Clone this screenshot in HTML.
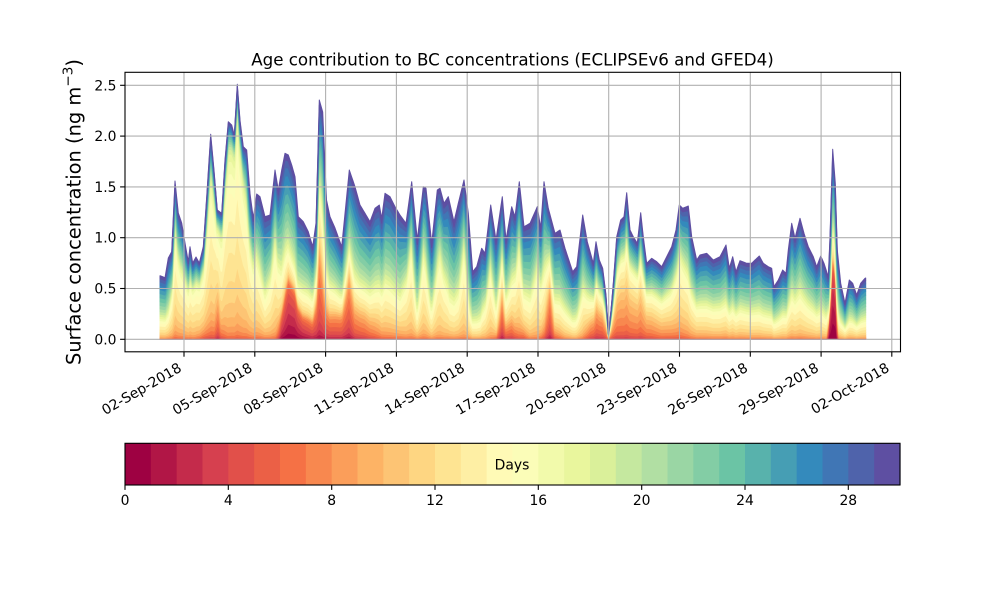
<!DOCTYPE html>
<html><head><meta charset="utf-8">
<style>
html,body{margin:0;padding:0;background:#fff;width:1000px;height:600px;overflow:hidden}
svg{display:block}
text{font-family:"DejaVu Sans","Liberation Sans",sans-serif;fill:#000}
</style></head>
<body>
<svg id="s" width="1000" height="600" viewBox="0 0 1000 600" xmlns="http://www.w3.org/2000/svg">
<rect width="1000" height="600" fill="#fff"/>
<g id="layers"></g>
<g stroke="#b0b0b0" stroke-width="1.1" fill="none">
<line x1="125" y1="339.3" x2="900.5" y2="339.3"/>
<line x1="125" y1="288.5" x2="900.5" y2="288.5"/>
<line x1="125" y1="237.7" x2="900.5" y2="237.7"/>
<line x1="125" y1="186.9" x2="900.5" y2="186.9"/>
<line x1="125" y1="136.1" x2="900.5" y2="136.1"/>
<line x1="125" y1="85.3" x2="900.5" y2="85.3"/>
<line x1="184.0" y1="72.3" x2="184.0" y2="351.8"/>
<line x1="254.8" y1="72.3" x2="254.8" y2="351.8"/>
<line x1="325.6" y1="72.3" x2="325.6" y2="351.8"/>
<line x1="396.4" y1="72.3" x2="396.4" y2="351.8"/>
<line x1="467.2" y1="72.3" x2="467.2" y2="351.8"/>
<line x1="538.0" y1="72.3" x2="538.0" y2="351.8"/>
<line x1="608.7" y1="72.3" x2="608.7" y2="351.8"/>
<line x1="679.5" y1="72.3" x2="679.5" y2="351.8"/>
<line x1="750.3" y1="72.3" x2="750.3" y2="351.8"/>
<line x1="821.1" y1="72.3" x2="821.1" y2="351.8"/>
<line x1="891.8" y1="72.3" x2="891.8" y2="351.8"/>
</g>
<rect x="125" y="72.3" width="775.5" height="279.5" fill="none" stroke="#000" stroke-width="1.1"/>
<g stroke="#000" stroke-width="1.1">
<line x1="184.0" y1="351.8" x2="184.0" y2="356.7"/>
<line x1="254.8" y1="351.8" x2="254.8" y2="356.7"/>
<line x1="325.6" y1="351.8" x2="325.6" y2="356.7"/>
<line x1="396.4" y1="351.8" x2="396.4" y2="356.7"/>
<line x1="467.2" y1="351.8" x2="467.2" y2="356.7"/>
<line x1="538.0" y1="351.8" x2="538.0" y2="356.7"/>
<line x1="608.7" y1="351.8" x2="608.7" y2="356.7"/>
<line x1="679.5" y1="351.8" x2="679.5" y2="356.7"/>
<line x1="750.3" y1="351.8" x2="750.3" y2="356.7"/>
<line x1="821.1" y1="351.8" x2="821.1" y2="356.7"/>
<line x1="891.8" y1="351.8" x2="891.8" y2="356.7"/>
<line x1="125" y1="339.3" x2="120.1" y2="339.3"/>
<line x1="125" y1="288.5" x2="120.1" y2="288.5"/>
<line x1="125" y1="237.7" x2="120.1" y2="237.7"/>
<line x1="125" y1="186.9" x2="120.1" y2="186.9"/>
<line x1="125" y1="136.1" x2="120.1" y2="136.1"/>
<line x1="125" y1="85.3" x2="120.1" y2="85.3"/>
</g>
<g font-size="13.9" text-anchor="end">
<text x="116.5" y="344.3">0.0</text>
<text x="116.5" y="293.5">0.5</text>
<text x="116.5" y="242.7">1.0</text>
<text x="116.5" y="191.9">1.5</text>
<text x="116.5" y="141.1">2.0</text>
<text x="116.5" y="90.3">2.5</text>
</g>
<g font-size="13.9" text-anchor="end">
<text transform="translate(182.5,370.6) rotate(-30)">02-Sep-2018</text>
<text transform="translate(253.3,370.6) rotate(-30)">05-Sep-2018</text>
<text transform="translate(324.1,370.6) rotate(-30)">08-Sep-2018</text>
<text transform="translate(394.9,370.6) rotate(-30)">11-Sep-2018</text>
<text transform="translate(465.7,370.6) rotate(-30)">14-Sep-2018</text>
<text transform="translate(536.5,370.6) rotate(-30)">17-Sep-2018</text>
<text transform="translate(607.2,370.6) rotate(-30)">20-Sep-2018</text>
<text transform="translate(678.0,370.6) rotate(-30)">23-Sep-2018</text>
<text transform="translate(748.8,370.6) rotate(-30)">26-Sep-2018</text>
<text transform="translate(819.6,370.6) rotate(-30)">29-Sep-2018</text>
<text transform="translate(890.3,370.6) rotate(-30)">02-Oct-2018</text>
</g>
<text x="512.5" y="65.7" font-size="16.67" text-anchor="middle">Age contribution to BC concentrations (ECLIPSEv6 and GFED4)</text>
<text transform="translate(80.7,212) rotate(-90)" font-size="19.44" text-anchor="middle">Surface concentration (ng m<tspan font-size="13.6" dy="-8">−3</tspan><tspan dy="8">)</tspan></text>
<g id="cbar"></g>
<rect x="125" y="443.3" width="775" height="41.7" fill="none" stroke="#000" stroke-width="1.1"/>
<text x="512" y="469.3" font-size="13.9" text-anchor="middle">Days</text>
<g stroke="#000" stroke-width="1.1">
<line x1="125" y1="485" x2="125" y2="489.9"/>
<line x1="228.3" y1="485" x2="228.3" y2="489.9"/>
<line x1="331.7" y1="485" x2="331.7" y2="489.9"/>
<line x1="435" y1="485" x2="435" y2="489.9"/>
<line x1="538.3" y1="485" x2="538.3" y2="489.9"/>
<line x1="641.7" y1="485" x2="641.7" y2="489.9"/>
<line x1="745" y1="485" x2="745" y2="489.9"/>
<line x1="848.3" y1="485" x2="848.3" y2="489.9"/>
</g>
<g font-size="13.9" text-anchor="middle">
<text x="125" y="505">0</text>
<text x="228.3" y="505">4</text>
<text x="331.7" y="505">8</text>
<text x="435" y="505">12</text>
<text x="538.3" y="505">16</text>
<text x="641.7" y="505">20</text>
<text x="745" y="505">24</text>
<text x="848.3" y="505">28</text>
</g>
</svg>
<script>
(function(){
var NS="http://www.w3.org/2000/svg";
var sp=[[158,1,66],[213,62,79],[244,109,67],[253,174,97],[254,224,139],[255,255,191],[230,245,152],[171,221,164],[102,194,165],[50,136,189],[94,79,162]];
function cmap(v){var p=v*10;var i=Math.min(9,Math.floor(p));var f=p-i;var c=[0,1,2].map(function(k){return Math.round(sp[i][k]*(1-f)+sp[i+1][k]*f);});return "rgb("+c.join(",")+")";}
var cols=[];for(var i=0;i<30;i++)cols.push(cmap(i/29));
var T=[[160,275.7],[165,277.7],[168.3,258],[171.7,251.7],[175,181],[178.3,213],[181.7,223],[185,243],[188.3,261.7],[190,246.7],[192.7,263],[196,257],[199.3,263],[203.3,246.7],[206.7,196.7],[210.7,134.3],[214,170],[217.3,210],[221.7,213.3],[225,160],[228.3,121.7],[231.7,125],[234.3,135],[237.3,84.3],[240,120],[243.3,146.7],[246.7,150],[250,193.3],[253.3,218.3],[256.7,194],[260,196.7],[265,216.7],[270,215],[275,170],[278.3,190],[281.7,170],[285,153.3],[288.3,155],[291.7,165],[295,176.7],[298.3,216.7],[303.3,221.7],[308.3,231.7],[312.7,246.7],[316,223],[319.3,100],[322.7,112],[326.5,200],[330,216.7],[335,228],[341.7,246.7],[349.3,170],[355,186.7],[360,205],[365,213.3],[370,221.7],[375,208.3],[379.3,205],[381.7,218.3],[385,193.3],[390,196.7],[395,206.7],[400,215],[406,223.3],[411.7,181.7],[417.3,240],[423.3,186.7],[426,188.3],[431.7,243.3],[437.3,190],[440,188.3],[444,203.3],[448.3,196.7],[454,221.7],[458.3,203.3],[464,180],[468.3,213.3],[472.7,271.7],[476.7,266.7],[481.7,248.3],[485,253.3],[490.7,205],[496,240],[502.3,196.7],[506,240],[511.7,206.7],[515,216.7],[519.3,181.7],[524,226.7],[530,223.3],[537.3,206.7],[540.7,228.3],[544,181.7],[548.3,208.3],[555,233.3],[560,230],[565,248.3],[572.7,271.7],[576.7,266.7],[582.7,215],[587.3,241.7],[593.3,263.3],[596,241.7],[599.3,260],[602.7,268.3],[606,295],[608.5,334],[611,310],[613.3,283.3],[616.7,236.7],[620.7,220],[624,216.7],[626.7,192.7],[630,230],[633.3,236.7],[637.3,243.3],[640.7,212.7],[643.3,236.7],[646.7,263.3],[651.7,258.3],[656.7,261.7],[661.7,266.7],[666.7,256.7],[671.7,246.7],[676,230],[679.3,205],[682.7,208.3],[688.3,206],[691.7,236.7],[696.7,260],[700,255],[706.7,253.3],[713.3,260],[720,256.7],[726,245],[729.3,268.3],[732.7,256.7],[736,271.7],[740,260.7],[746.7,263.3],[751.7,263.3],[755,260],[759.3,256],[763.3,263.3],[768.3,266.7],[771.7,268.3],[774,286.7],[778.3,280],[782.7,270],[786,273.3],[788.3,250],[791.7,223.3],[795,238.3],[800,218.3],[804,233.3],[808.3,246.7],[813.3,256.7],[816.7,266.7],[820.7,256],[824,263.3],[828.3,276.7],[830,236.7],[832.7,149.3],[835.3,183.3],[837.3,250],[840.7,283.3],[845,303.3],[849.3,280],[852.7,283.3],[856.7,295],[860.7,283.3],[865,278.3],[865.7,278]];
var K=[[160,.05,.3],[168,.05,.3],[175,.1,.6],[181,.1,.45],[188,.1,.5],[195,.1,.55],[203,.12,.6,8],[210,.1,.7,8],[214,.12,.7,8],[218,.35,.5,7],[221,.15,.65,8],[228,.08,.78],[237,.1,.8],[243,.1,.72],[250,.1,.5],[256,.1,.45],[265,.06,.35],[275,.06,.5],[281,.15,.3,4],[288,.33,.17,3],[295,.3,.12,3],[303,.2,.22,4],[312,.2,.25,5],[319,.42,.32,6],[324,.25,.35,6],[330,.2,.25,6],[340,.25,.2,6],[349,.4,.15,6],[355,.2,.2,7],[365,.2,.2,7.5],[375,.15,.25,8.5],[385,.12,.3],[400,.1,.25],[411,.05,.55],[417,.05,.25],[423,.05,.5],[431,.04,.3],[440,.03,.5],[450,.03,.3],[458,.03,.35],[464,.03,.55],[470,.03,.25],[480,.02,.2],[490,.03,.5],[496,.05,.3,8],[502,.33,.35,6],[506,.15,.3,7],[512,.15,.35,7],[519,.08,.5,8],[524,.1,.35,8],[530,.05,.35],[537,.05,.45],[544,.1,.4,8],[550,.45,.25,6],[555,.1,.3,8],[565,.05,.3],[575,.03,.25],[582,.05,.4],[590,.2,.3,7.5],[597,.35,.3,7],[603,.35,.3,7],[608,.3,.4,7.5],[614,.4,.3,8],[620,.43,.3,8.5],[627,.4,.35,8.5],[640,.38,.35,8.5],[650,.3,.35,8.5],[660,.25,.35,9],[670,.2,.4,9],[680,.15,.45,9],[690,.12,.4],[700,.1,.35],[720,.08,.35],[740,.08,.35],[760,.06,.3],[775,.05,.3],[792,.05,.4],[800,.05,.4],[815,.05,.35],[826,.05,.3],[829,.3,.2,2],[832,.45,.2,1.5],[836,.4,.2,1.5],[839,.05,.3],[850,.05,.3],[866,.05,.3]];
K.forEach(function(k){if(k.length<4)k.push(10);if(k[2]<0.45)k[2]*=0.7;});
function interp(arr,x,idx){if(x<=arr[0][0])return arr[0][idx];for(var i=1;i<arr.length;i++){if(x<=arr[i][0]){var a=arr[i-1],b=arr[i];var f=(x-a[0])/(b[0]-a[0]);return a[idx]+(b[idx]-a[idx])*f;}}return arr[arr.length-1][idx];}
function L(a,m,s){return 1/(1+Math.exp(-(a-m)/s));}
function G(a,m,s){var l0=L(0,m,s),l1=L(30,m,s);return (L(a,m,s)-l0)/(l1-l0);}
var Y0=339.3;
var set={};T.forEach(function(p){set[p[0]]=1;});for(var x=160;x<=865.7;x+=1)set[x]=1;K.forEach(function(k){if(k[0]<=865.7)set[k[0]]=1;});
var xs=Object.keys(set).map(Number).sort(function(a,b){return a-b;});
var cum=xs.map(function(x){var h=Y0-interp(T,x,1);var wr=interp(K,x,1),wy=interp(K,x,2),rc=interp(K,x,3);var wb=1-wr-wy;var arr=[];for(var k=0;k<=30;k++){arr.push(Y0-h*(wr*G(k,rc,1.5)+wy*G(k,13.5,1.4)+wb*G(k,25,3.5)));}return arr;});
var g=document.getElementById("layers");
for(var i=0;i<30;i++){var d="M";for(var j=0;j<xs.length;j++){d+=(j?"L":"")+xs[j].toFixed(2)+","+cum[j][i+1].toFixed(2);}for(var j=xs.length-1;j>=0;j--){d+="L"+xs[j].toFixed(2)+","+cum[j][i].toFixed(2);}d+="Z";var p=document.createElementNS(NS,"path");p.setAttribute("d",d);p.setAttribute("fill",cols[i]);p.setAttribute("stroke",cols[i]);p.setAttribute("stroke-width","1");p.setAttribute("stroke-linejoin","round");g.appendChild(p);}
var cb=document.getElementById("cbar");var w=775/30;
for(var i=0;i<30;i++){var r=document.createElementNS(NS,"rect");r.setAttribute("x",(125+i*w).toFixed(2));r.setAttribute("y","443.3");r.setAttribute("width",(w+0.6).toFixed(2));r.setAttribute("height","41.7");r.setAttribute("fill",cols[i]);cb.appendChild(r);}
})();
</script>
</body></html>
